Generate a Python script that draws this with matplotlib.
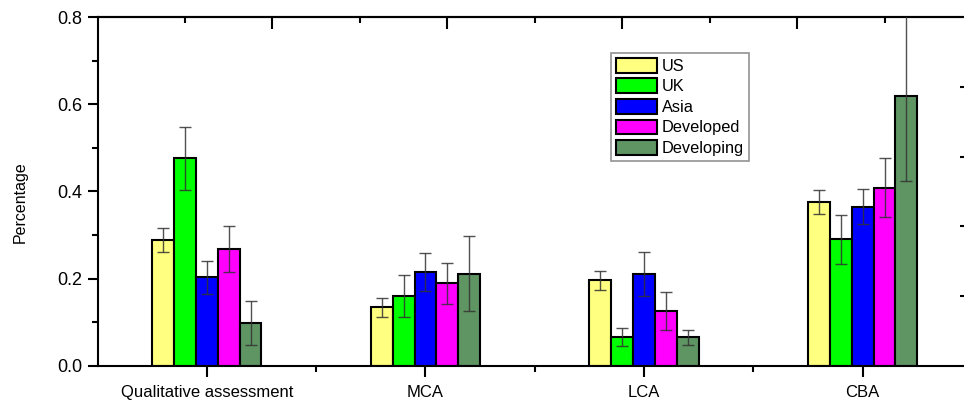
import numpy as np
import matplotlib
matplotlib.use("Agg")
from matplotlib import pyplot as plt
from matplotlib.ticker import MultipleLocator, NullFormatter, FormatStrFormatter

plt.rcParams['font.family'] = ['Liberation Sans', 'DejaVu Sans']

categories = ["Qualitative assessment", "MCA", "LCA", "CBA"]
regions = ["US", "UK", "Asia", "Developed", "Developing"]
colors = ["#ffff80", "#00ff00", "#0000ff", "#ff00ff", "#5f9463"]

# mean shares per region, one list per region (order follows categories)
us = [0.289, 0.135, 0.196, 0.376]
uk = [0.476, 0.160, 0.067, 0.290]
asia = [0.203, 0.216, 0.211, 0.365]
developed = [0.269, 0.190, 0.126, 0.409]
developing = [0.099, 0.211, 0.066, 0.619]

# error bar half widths
us_err = [0.027, 0.022, 0.022, 0.028]
uk_err = [0.072, 0.048, 0.021, 0.057]
asia_err = [0.038, 0.043, 0.050, 0.040]
developed_err = [0.053, 0.047, 0.043, 0.067]
developing_err = [0.051, 0.086, 0.017, 0.195]

values = [us, uk, asia, developed, developing]
errors = [us_err, uk_err, asia_err, developed_err, developing_err]

fig = plt.figure(figsize=(9.64, 4.03), dpi=100)
ax = fig.add_axes([97.5 / 964, 37 / 403, (972 - 97.5) / 964, 349 / 403])

x = np.arange(1, len(categories) + 1)
w = 0.1
for i, (vals, errs) in enumerate(zip(values, errors)):
    ax.bar(x + (i - 2) * w, vals, width=w, color=colors[i], edgecolor="black",
           linewidth=1.5, label=regions[i], zorder=2)
    ax.errorbar(x + (i - 2) * w, vals, yerr=errs, fmt="none", ecolor="#333333",
                alpha=0.85, elinewidth=1.0, capsize=4.5, capthick=1.0, zorder=3)

ax.set_xlim(0.5, 4.5)
ax.set_ylim(0, 0.8)
ax.set_xticks(x)
ax.set_xticklabels(categories, fontsize=12)
ax.set_xticks([1.5, 2.5, 3.5], minor=True)
ax.yaxis.set_major_locator(MultipleLocator(0.2))
ax.yaxis.set_minor_locator(MultipleLocator(0.1))
ax.yaxis.set_major_formatter(FormatStrFormatter("%.1f"))
ax.tick_params(axis="y", labelsize=13)
ax.set_ylabel("Percentage", fontsize=11.5)
ax.yaxis.set_label_coords(-0.08, 0.47)

ax.tick_params(axis="y", which="major", direction="out", length=7.5, width=1.5)
ax.tick_params(axis="y", which="minor", direction="out", length=4.5, width=1.5)
ax.tick_params(axis="x", which="major", direction="out", length=8, width=1.5, pad=6)
ax.tick_params(axis="x", which="minor", direction="out", length=4.5, width=1.5)
for s in ax.spines.values():
    s.set_linewidth(1.5)

# top axis with its own scale (0-5), ticks pointing in
top = ax.secondary_xaxis("top", functions=(lambda v: (v - 0.5) * 5 / 4,
                                            lambda t: t * 4 / 5 + 0.5))
top.set_xticks([1, 2, 3, 4])
top.set_xticks([0.5, 1.5, 2.5, 3.5, 4.5], minor=True)
top.xaxis.set_major_formatter(NullFormatter())
top.tick_params(which="major", direction="in", length=8.5, width=1.5)
top.tick_params(which="minor", direction="in", length=4.5, width=1.5)
top.spines["top"].set_linewidth(1.5)

# right axis (spine is just outside the picture)
right = ax.secondary_yaxis("right", functions=(lambda v: v / 0.8 * 5,
                                                lambda t: t * 0.8 / 5))
right.set_yticks([1, 2, 3, 4])
right.yaxis.set_major_formatter(NullFormatter())
right.tick_params(which="major", direction="in", length=9, width=1.5)
right.spines["right"].set_linewidth(1.5)

leg = ax.legend(loc="upper left", bbox_to_anchor=(611 / 964, 1 - 53 / 403),
                bbox_transform=fig.transFigure, fontsize=11.8, frameon=True,
                fancybox=False, edgecolor="#777777", handlelength=2.5,
                handleheight=1.0, labelspacing=0.28, handletextpad=0.3,
                borderpad=0.3, borderaxespad=0)
leg.get_frame().set_linewidth(1.2)

fig.savefig("out.png", dpi=100)
